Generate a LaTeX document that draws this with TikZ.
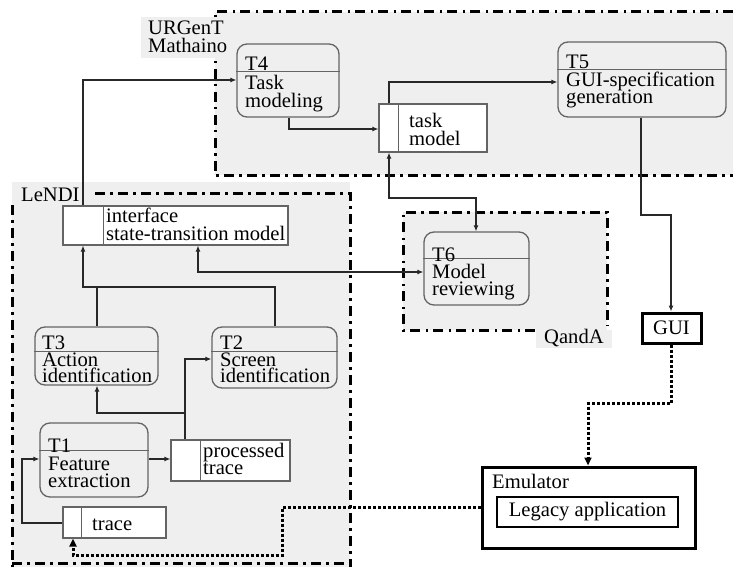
\documentclass[tikz,border=0pt]{standalone}
\usepackage{fontspec}
\setmainfont{Liberation Serif}
\usetikzlibrary{arrows.meta,fit,calc}
\definecolor{regionfill}{RGB}{239,239,239}
\definecolor{boxline}{RGB}{100,100,100}
\definecolor{wire}{RGB}{40,40,40}
\begin{document}
\begin{tikzpicture}[x=1pt,y=-1pt,
  lbl/.style={font=\fontsize{20.6}{18}\selectfont, inner sep=0pt, anchor=base west},
  taskbox/.style={draw=boxline, line width=1.3pt, rounded corners=10pt, inner sep=0pt},
  storebox/.style={draw=boxline, line width=1.2pt, fill=white, inner sep=0pt},
  divline/.style={draw=boxline, line width=1.2pt},
  region/.style={line width=3pt, dash pattern=on 10pt off 5pt on 2.5pt off 5.5pt},
  heavybox/.style={draw=black, line width=3pt, fill=white, inner sep=0pt},
  conn/.style={draw=wire, line width=1.1pt, >={Latex[length=6pt,width=5pt]}},
  dots/.style={draw=black, line width=3pt, dash pattern=on 3pt off 2pt,
    >={Triangle[length=8pt,width=7pt]}},
]
\useasboundingbox (0,0) rectangle (733,567);

% ---- tool areas (filled backgrounds, dash-dot frames, titles)
\fill[regionfill] (215,12) rectangle (733,175);
\fill[regionfill] (12,182) rectangle (350,567);
\fill[regionfill] (403,212) rectangle (607,330);

\draw[region] (733,12) -- (215,12) -- (215,175) -- (733,175);
\draw[region] (95,193) -- (350,193) -- (350,567);
\draw[region] (12,205) -- (12,567);
\draw[region] (12,563) -- (350,563);
\draw[region] (535,330) -- (403,330) -- (403,212) -- (607,212) -- (607,326);

% title plates sit on top of the frames
\fill[regionfill] (141,17) rectangle (230,58);
\fill[regionfill] (536,330) rectangle (612,348);

\node[lbl] (urgentA) at (148,35) {URGenT};
\node[lbl] (urgentB) at (148,53) {Mathaino};
\node[lbl] (lendi) at (21,201) {LeNDI};
\node[lbl] (qanda) at (544,343) {QandA};

% ---- tasks
\node[taskbox, fit={(237,44) (339,117)}] (t4) {};
\node[taskbox, fit={(558,42) (726,117)}] (t5) {};
\node[taskbox, fit={(424,232) (529,305)}] (t6) {};
\node[taskbox, fit={(35,327) (158,385)}] (t3) {};
\node[taskbox, fit={(212,327) (337,388)}] (t2) {};
\node[taskbox, fit={(40,423) (148,497)}] (t1) {};

\draw[divline] ($(t4.north west)+(0,28)$) -- ($(t4.north east)+(0,28)$);
\draw[divline] ($(t5.north west)+(0,28)$) -- ($(t5.north east)+(0,28)$);
\draw[divline] ($(t6.north west)+(0,27)$) -- ($(t6.north east)+(0,27)$);
\draw[divline] ($(t3.north west)+(0,25)$) -- ($(t3.north east)+(0,25)$);
\draw[divline] ($(t2.north west)+(0,25)$) -- ($(t2.north east)+(0,25)$);
\draw[divline] ($(t1.north west)+(0,28)$) -- ($(t1.north east)+(0,28)$);

\node[lbl] (t4id) at (245,71) {T4};
\node[lbl] (t4nmA) at (245,90) {Task};
\node[lbl] (t4nmB) at (245,108) {modeling};
\node[lbl] (t5id) at (566,69) {T5};
\node[lbl] (t5nmA) at (566,87) {GUI-specification};
\node[lbl] (t5nmB) at (566,104) {generation};
\node[lbl] (t6id) at (432,261) {T6};
\node[lbl] (t6nmA) at (432,278) {Model};
\node[lbl] (t6nmB) at (432,295) {reviewing};
\node[lbl] (t3id) at (42,349) {T3};
\node[lbl] (t3nmA) at (42,366) {Action};
\node[lbl] (t3nmB) at (42,382) {identification};
\node[lbl] (t2id) at (220,349) {T2};
\node[lbl] (t2nmA) at (220,366) {Screen};
\node[lbl] (t2nmB) at (220,382) {identification};
\node[lbl] (t1id) at (48,452) {T1};
\node[lbl] (t1nmA) at (48,470) {Feature};
\node[lbl] (t1nmB) at (48,487) {extraction};

% ---- data stores
\node[storebox, fit={(63,206) (288,245)}] (iface) {};
\node[storebox, fit={(379,104) (487,152)}] (tmodel) {};
\node[storebox, fit={(171,440) (290,481)}] (ptrace) {};
\node[storebox, fit={(63,507) (166,538)}] (trace) {};

\draw[divline] ($(iface.north west)+(41,0)$) -- ($(iface.south west)+(41,0)$);
\draw[divline] ($(tmodel.north west)+(20,0)$) -- ($(tmodel.south west)+(20,0)$);
\draw[divline] ($(ptrace.north west)+(30,0)$) -- ($(ptrace.south west)+(30,0)$);
\draw[divline] ($(trace.north west)+(19,0)$) -- ($(trace.south west)+(19,0)$);

\node[lbl] (ifacetxA) at (106,222) {interface};
\node[lbl] (ifacetxB) at (106,240) {state-transition model};
\node[lbl] (tmodeltxA) at (409,128) {task};
\node[lbl] (tmodeltxB) at (409,145) {model};
\node[lbl] (ptracetxA) at (203,457) {processed};
\node[lbl] (ptracetxB) at (203,474) {trace};
\node[lbl] (tracetx) at (92,530) {trace};

% ---- GUI and emulator
\node[heavybox, fit={(642,313) (701,343)}] (gui) {};
\node[lbl, anchor=center] (guitx) at (gui.center) {GUI};
\node[heavybox, fit={(482,467) (695,548)}] (emu) {};
\node[lbl] (emutx) at (492,488) {Emulator};
\node[heavybox, line width=2.5pt, fit={(497,497) (678,527)}] (legacy) {};
\node[lbl, anchor=center] (legacytx) at (legacy.center) {Legacy application};

% ---- bend points
\coordinate (k1) at (83,80);
\coordinate (k2) at (289,129);
\coordinate (k3) at (389,82);
\coordinate (k4a) at (641,215);
\coordinate (k4b) at (671,215);
\coordinate (k5a) at (389,198);
\coordinate (k5b) at (476,198);
\coordinate (k6) at (198,272);
\coordinate (k7a) at (83,287);
\coordinate (k7b) at (97,287);
\coordinate (k8) at (275,287);
\coordinate (k9) at (185,359);
\coordinate (k10a) at (185,413);
\coordinate (k10b) at (97,413);
\coordinate (k11) at (160,459);
\coordinate (k12a) at (22,523);
\coordinate (k12b) at (22,459);
\coordinate (k13a) at (671,403);
\coordinate (k13b) at (588,403);
\coordinate (k14a) at (282,507);
\coordinate (k14b) at (282,555);
\coordinate (k14c) at (73,555);

% ---- data flows
\draw[conn,->] (iface.north -| k1) -- (k1) -- (t4.west |- k1);
\draw[conn,->] (t4.south -| k2) |- (tmodel.west |- k2);
\draw[conn,->] (tmodel.north -| k3) |- (t5.west |- k3);
\draw[conn,->] (t5.south -| k4a) -- (k4a) -- (k4b) -- (gui.north -| k4b);
\draw[conn,<->] (tmodel.south -| k5a) -- (k5a) -- (k5b) -- (t6.north -| k5b);
\draw[conn,<->] (iface.south -| k6) |- (t6.west |- k6);
\draw[conn,->] (t3.north -| k7b) -- (k7b) -- (k7a) -- (iface.south -| k7a);
\draw[conn] (t2.north -| k8) -- (k8) -- (k7b);
\draw[conn,->] (ptrace.north -| k9) |- (t2.west |- k9);
\draw[conn,->] (k10a) -- (k10b) -- (t3.south -| k10b);
\draw[conn,->] (t1.east |- k11) -- (ptrace.west |- k11);
\draw[conn,->] (trace.west |- k12a) -- (k12a) -- (k12b) -- (t1.west |- k12b);

% ---- emulator links
\draw[dots,->] (gui.south -| k13a) -- (k13a) -- (k13b) -- (emu.north -| k13b);
\draw[dots,->] (emu.west |- k14a) -- (k14a) -- (k14b) -- (k14c) -- (trace.south -| k14c);
\end{tikzpicture}
\end{document}
